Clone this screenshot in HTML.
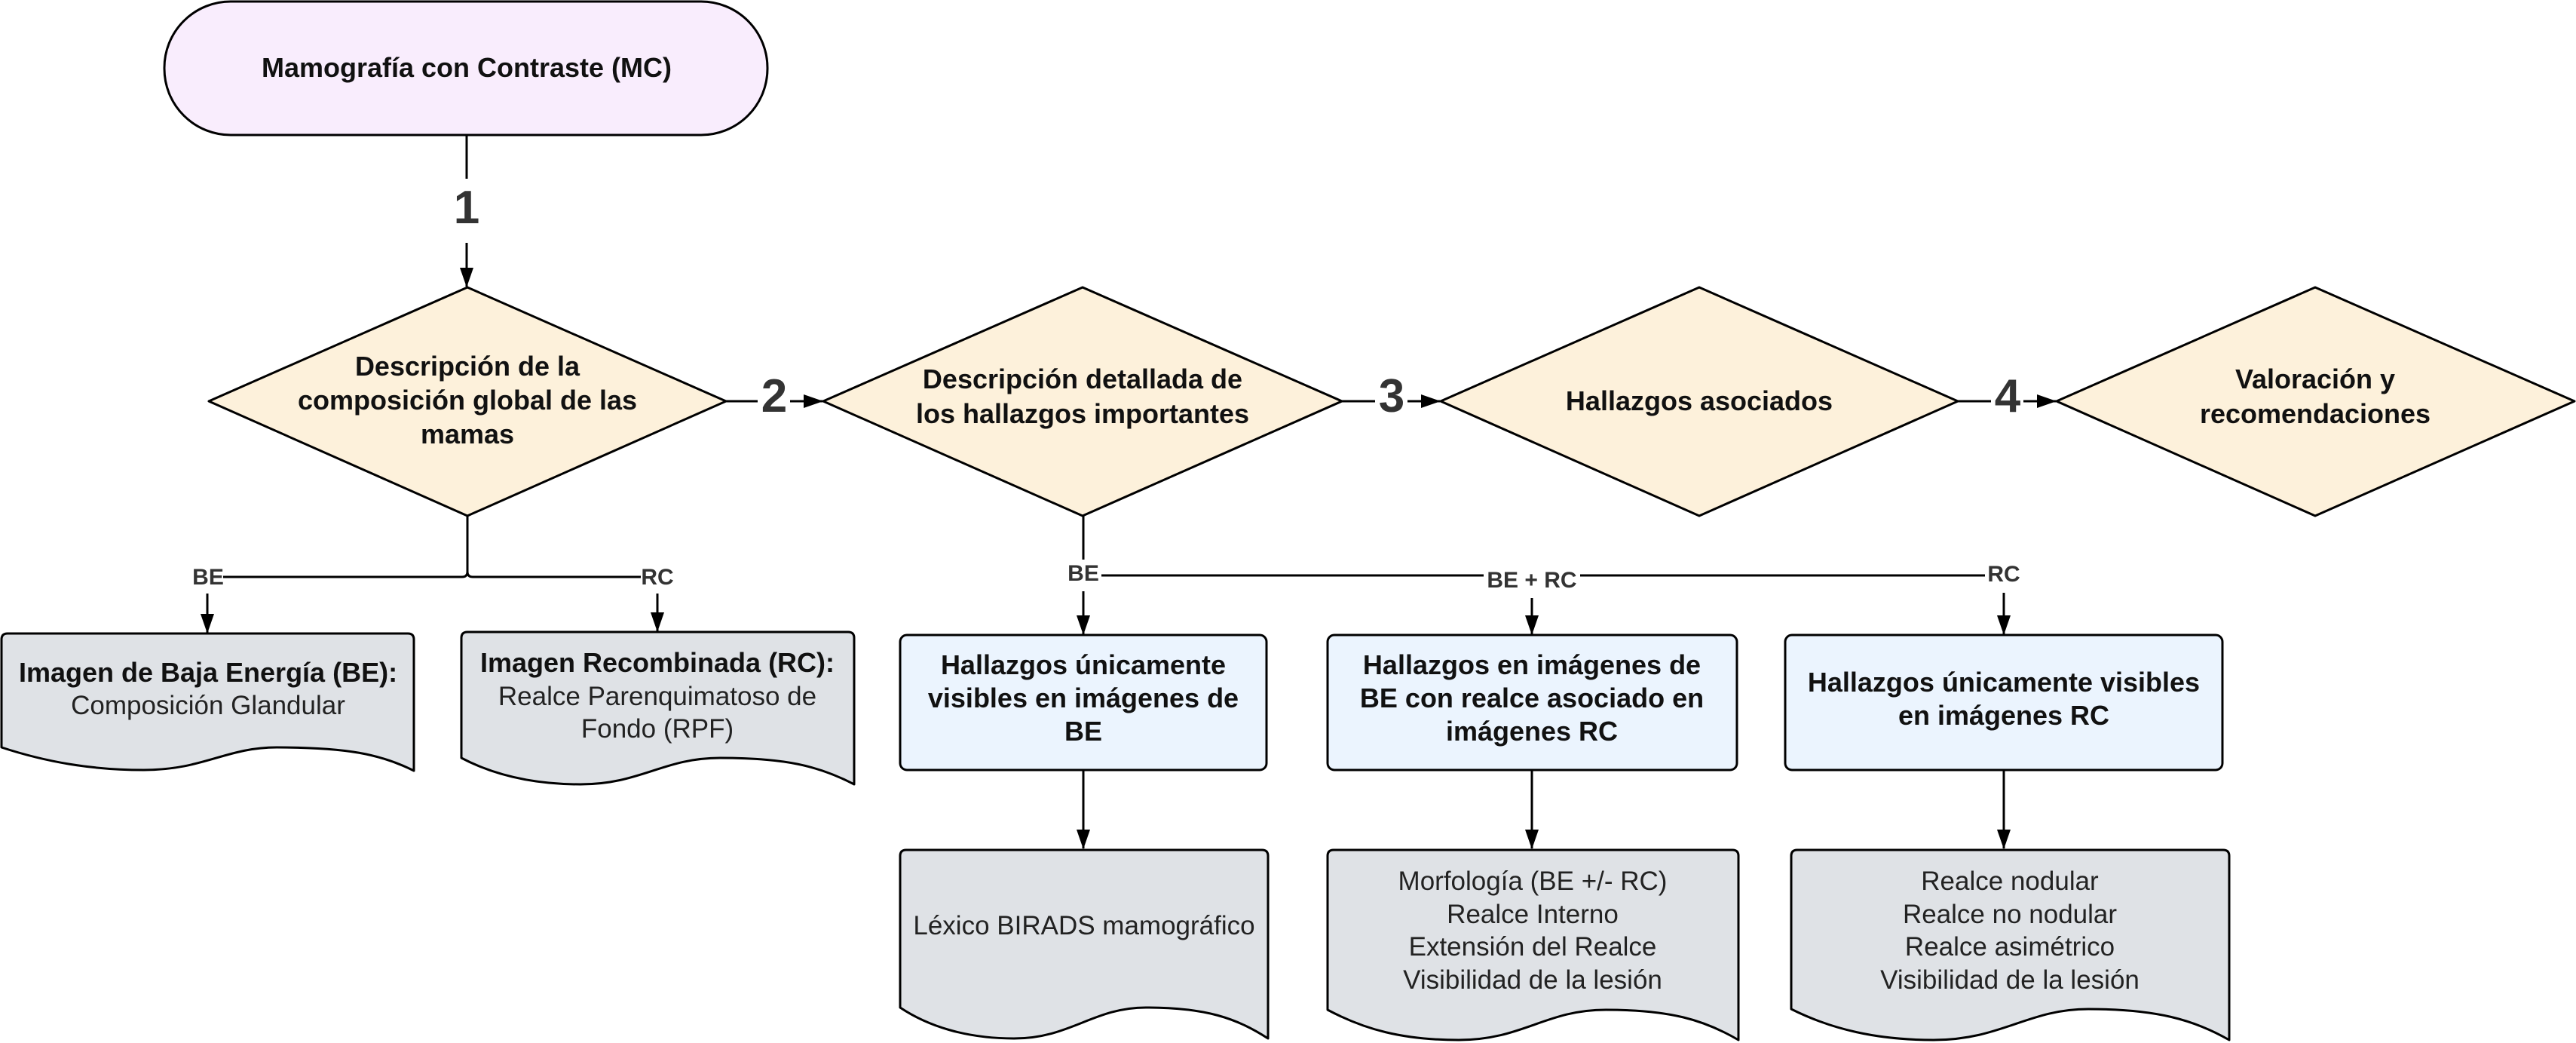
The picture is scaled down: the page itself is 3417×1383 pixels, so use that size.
<!DOCTYPE html>
<html><head><meta charset="utf-8"><style>
html,body{margin:0;padding:0;background:#fff;}
svg{display:block;}
.t{font-family:"Liberation Sans",sans-serif;font-weight:bold;font-size:36px;fill:#111;text-anchor:middle;}
.r{font-family:"Liberation Sans",sans-serif;font-size:35px;fill:#222;text-anchor:middle;}
.lb{font-family:"Liberation Sans",sans-serif;font-weight:bold;font-size:30px;fill:#333;text-anchor:middle;}
.num{font-family:"Liberation Sans",sans-serif;font-weight:bold;font-size:62px;fill:#333;text-anchor:middle;}
.s{stroke:#000;stroke-width:3;fill:none;}
</style></head><body>
<svg width="3417" height="1383" viewBox="0 0 3417 1383" xmlns="http://www.w3.org/2000/svg">
<defs>
<marker id="a" markerWidth="26" markerHeight="18" refX="25" refY="9" orient="auto" markerUnits="userSpaceOnUse">
<path d="M0,0 L26,9 L0,18 Z" fill="#000"/></marker>
</defs>

<rect x="218" y="2" width="800" height="177" rx="88" ry="88" fill="#F9EDFD" stroke="#000" stroke-width="3"/>
<text class="t" x="619" y="102">Mamografía con Contraste (MC)</text>

<line class="s" x1="619" y1="179" x2="619" y2="237"/>
<line class="s" x1="619" y1="322" x2="619" y2="380" marker-end="url(#a)"/>
<text class="num" x="619" y="296">1</text>

<g fill="#FDF1DB" stroke="#000" stroke-width="3" stroke-linejoin="round">
<polygon points="620,381 963,532 620,684 277,532"/>
<polygon points="1436,381 1780,532 1436,684 1092,532"/>
<polygon points="2254,381 2597,532 2254,684 1911,532"/>
<polygon points="3071,381 3415,532 3071,684 2728,532"/>
</g>
<text class="t" x="620" y="498">Descripción de la</text>
<text class="t" x="620" y="543">composición global de las</text>
<text class="t" x="620" y="588">mamas</text>
<text class="t" x="1436" y="515">Descripción detallada de</text>
<text class="t" x="1436" y="561">los hallazgos importantes</text>
<text class="t" x="2254" y="544">Hallazgos asociados</text>
<text class="t" x="3071" y="515">Valoración y</text>
<text class="t" x="3071" y="561">recomendaciones</text>

<line class="s" x1="963" y1="532" x2="1005" y2="532"/>
<line class="s" x1="1048" y1="532" x2="1091" y2="532" marker-end="url(#a)"/>
<text class="num" x="1027" y="546">2</text>
<line class="s" x1="1780" y1="532" x2="1824" y2="532"/>
<line class="s" x1="1867" y1="532" x2="1910" y2="532" marker-end="url(#a)"/>
<text class="num" x="1846" y="546">3</text>
<line class="s" x1="2597" y1="532" x2="2641" y2="532"/>
<line class="s" x1="2684" y1="532" x2="2727" y2="532" marker-end="url(#a)"/>
<text class="num" x="2663" y="546">4</text>

<path class="s" d="M620,684 V758 Q620,765 613,765 H296"/>
<path class="s" d="M620,758 Q620,765 627,765 H850"/>
<text class="lb" x="276" y="775">BE</text>
<text class="lb" x="872" y="775">RC</text>
<line class="s" x1="275" y1="787" x2="275" y2="839" marker-end="url(#a)"/>
<line class="s" x1="872" y1="787" x2="872" y2="837" marker-end="url(#a)"/>

<line class="s" x1="1437" y1="684" x2="1437" y2="742"/>
<line class="s" x1="1461" y1="763" x2="1968" y2="763"/>
<line class="s" x1="2096" y1="763" x2="2633" y2="763"/>
<text class="lb" x="1437" y="770">BE</text>
<text class="lb" x="2032" y="779">BE + RC</text>
<text class="lb" x="2658" y="771">RC</text>
<line class="s" x1="1437" y1="784" x2="1437" y2="841" marker-end="url(#a)"/>
<line class="s" x1="2032" y1="793" x2="2032" y2="841" marker-end="url(#a)"/>
<line class="s" x1="2658" y1="786" x2="2658" y2="841" marker-end="url(#a)"/>

<g fill="#EBF4FE" stroke="#000" stroke-width="3">
<rect x="1194" y="842" width="486" height="179" rx="9"/>
<rect x="1761" y="842" width="543" height="179" rx="9"/>
<rect x="2368" y="842" width="580" height="179" rx="9"/>
</g>
<text class="t" x="1437" y="894">Hallazgos únicamente</text>
<text class="t" x="1437" y="938">visibles en imágenes de</text>
<text class="t" x="1437" y="982">BE</text>
<text class="t" x="2032" y="894">Hallazgos en imágenes de</text>
<text class="t" x="2032" y="938">BE con realce asociado en</text>
<text class="t" x="2032" y="982">imágenes RC</text>
<text class="t" x="2658" y="917">Hallazgos únicamente visibles</text>
<text class="t" x="2658" y="961">en imágenes RC</text>

<line class="s" x1="1437" y1="1021" x2="1437" y2="1125" marker-end="url(#a)"/>
<line class="s" x1="2032" y1="1021" x2="2032" y2="1125" marker-end="url(#a)"/>
<line class="s" x1="2658" y1="1021" x2="2658" y2="1125" marker-end="url(#a)"/>

<g fill="#DFE2E6" stroke="#000" stroke-width="3" stroke-linejoin="round">
<path d="M2,991 V848 Q2,840 10,840 H541 Q549,840 549,848 V1022 C505,1000 460,991 367,991 C300,991 270,1021 191,1021 C120,1021 60,1010 2,991 Z"/>
<path d="M612,1005 V846 Q612,838 620,838 H1125 Q1133,838 1133,846 V1040 C1085,1015 1040,1005 955,1005 C880,1005 850,1040 770,1040 C700,1040 650,1025 612,1005 Z"/>
<path d="M1194,1336 V1135 Q1194,1127 1202,1127 H1674 Q1682,1127 1682,1135 V1377 C1640,1350 1600,1336 1520,1336 C1450,1336 1420,1377 1345,1377 C1280,1377 1230,1360 1194,1336 Z"/>
<path d="M1761,1339 V1135 Q1761,1127 1769,1127 H2298 Q2306,1127 2306,1135 V1379 C2260,1352 2215,1339 2130,1339 C2050,1339 2020,1379 1935,1379 C1860,1379 1810,1365 1761,1339 Z"/>
<path d="M2376,1338 V1135 Q2376,1127 2384,1127 H2949 Q2957,1127 2957,1135 V1379 C2910,1352 2860,1338 2770,1338 C2690,1338 2655,1379 2565,1379 C2490,1379 2430,1365 2376,1338 Z"/>
</g>
<text class="t" x="276" y="904">Imagen de Baja Energía (BE):</text>
<text class="r" x="276" y="947">Composición Glandular</text>
<text class="t" x="872" y="891">Imagen Recombinada (RC):</text>
<text class="r" x="872" y="935">Realce Parenquimatoso de</text>
<text class="r" x="872" y="978">Fondo (RPF)</text>
<text class="r" x="1438" y="1239">Léxico BIRADS mamográfico</text>
<text class="r" x="2033" y="1180">Morfología (BE +/- RC)</text>
<text class="r" x="2033" y="1224">Realce Interno</text>
<text class="r" x="2033" y="1267">Extensión del Realce</text>
<text class="r" x="2033" y="1311">Visibilidad de la lesión</text>
<text class="r" x="2666" y="1180">Realce nodular</text>
<text class="r" x="2666" y="1224">Realce no nodular</text>
<text class="r" x="2666" y="1267">Realce asimétrico</text>
<text class="r" x="2666" y="1311">Visibilidad de la lesión</text>
</svg>
</body></html>
